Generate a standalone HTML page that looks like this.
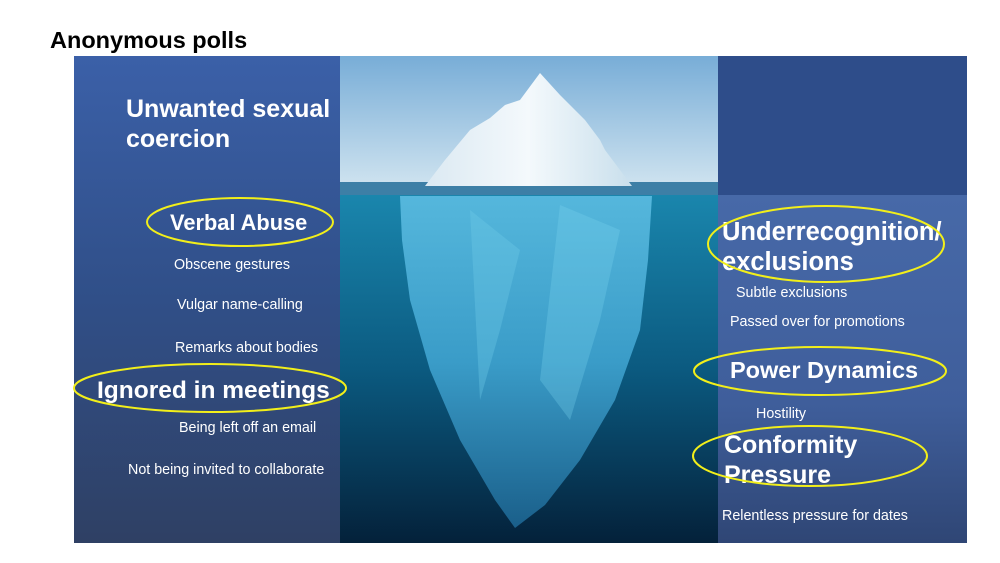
<!DOCTYPE html>
<html><head><meta charset="utf-8"><style>
html,body{margin:0;padding:0;background:#fff;}
svg{display:block}
.h{font-family:"Liberation Sans",sans-serif;font-weight:bold;fill:#fff}
.s{font-family:"Liberation Sans",sans-serif;fill:#fff;font-size:14.3px}
</style></head><body>
<svg width="1000" height="563" viewBox="0 0 1000 563" xmlns="http://www.w3.org/2000/svg">
<defs>
<linearGradient id="lp" x1="0" y1="0" x2="0" y2="1"><stop offset="0" stop-color="#3b60a8"/><stop offset="0.5" stop-color="#304f88"/><stop offset="1" stop-color="#2f4064"/></linearGradient>
<linearGradient id="rp" x1="0" y1="0" x2="0" y2="1"><stop offset="0" stop-color="#4769a8"/><stop offset="0.6" stop-color="#3f5e9b"/><stop offset="1" stop-color="#2f4675"/></linearGradient>
<linearGradient id="sky" x1="0" y1="0" x2="0" y2="1"><stop offset="0" stop-color="#78add7"/><stop offset="1" stop-color="#cde2ef"/></linearGradient>
<linearGradient id="sea" x1="0" y1="0" x2="0" y2="1"><stop offset="0" stop-color="#1a86ad"/><stop offset="0.5" stop-color="#0b5a80"/><stop offset="1" stop-color="#04213a"/></linearGradient>
<linearGradient id="ice" x1="0" y1="0" x2="0" y2="1"><stop offset="0" stop-color="#55b7dc"/><stop offset="0.5" stop-color="#3a9cc8"/><stop offset="1" stop-color="#1a5f8a"/></linearGradient>
<linearGradient id="peak" x1="0" y1="0" x2="1" y2="0"><stop offset="0" stop-color="#dbe9f2"/><stop offset="0.5" stop-color="#f4f9fc"/><stop offset="1" stop-color="#c9dfec"/></linearGradient>
</defs>
<text x="50" y="48" font-family="Liberation Sans,sans-serif" font-weight="bold" font-size="23.5" fill="#000">Anonymous polls</text>
<rect x="74" y="56" width="267" height="487" fill="url(#lp)"/>
<rect x="340" y="56" width="378" height="128" fill="url(#sky)"/>
<rect x="340" y="182" width="378" height="14" fill="#3d7fa6"/>
<rect x="340" y="195" width="378" height="348" fill="url(#sea)"/>
<polygon points="400,196 652,196 648,260 640,330 615,400 580,460 545,505 515,528 495,500 460,440 430,370 410,300 402,240" fill="url(#ice)"/>
<polygon points="470,210 520,250 500,330 480,400" fill="#6fcbe8" opacity="0.35"/>
<polygon points="560,205 620,230 600,320 570,420 540,380" fill="#7ad3ee" opacity="0.3"/>
<polygon points="425,186 445,160 470,130 490,118 505,105 520,100 540,73 560,95 575,110 585,120 600,140 605,150 620,170 632,186" fill="url(#peak)"/>
<rect x="718" y="56" width="249" height="140" fill="#2e4d8a"/>
<rect x="718" y="195" width="249" height="348" fill="url(#rp)"/>
<text class="h" font-size="25" x="126" y="117">Unwanted sexual</text>
<text class="h" font-size="25" x="126" y="147">coercion</text>
<text class="h" font-size="21.8" x="170" y="230">Verbal Abuse</text>
<ellipse cx="240" cy="222" rx="93" ry="24" fill="none" stroke="#f2ef1a" stroke-width="2"/>
<text class="s" x="174" y="269">Obscene gestures</text>
<text class="s" x="177" y="309">Vulgar name-calling</text>
<text class="s" x="175" y="352">Remarks about bodies</text>
<text class="h" font-size="24.5" x="97" y="398">Ignored in meetings</text>
<ellipse cx="210" cy="388" rx="136" ry="24" fill="none" stroke="#f2ef1a" stroke-width="2"/>
<text class="s" x="179" y="432">Being left off an email</text>
<text class="s" x="128" y="474">Not being invited to collaborate</text>
<text class="h" font-size="25.5" x="722" y="240">Underrecognition/</text>
<text class="h" font-size="25.5" x="722" y="270">exclusions</text>
<ellipse cx="826" cy="244" rx="118" ry="38" fill="none" stroke="#f2ef1a" stroke-width="2"/>
<text class="s" x="736" y="297">Subtle exclusions</text>
<text class="s" x="730" y="326">Passed over for promotions</text>
<text class="h" font-size="23.5" x="730" y="378">Power Dynamics</text>
<ellipse cx="820" cy="371" rx="126" ry="24" fill="none" stroke="#f2ef1a" stroke-width="2"/>
<text class="s" x="756" y="418">Hostility</text>
<text class="h" font-size="25" x="724" y="453">Conformity</text>
<text class="h" font-size="25" x="724" y="483">Pressure</text>
<ellipse cx="810" cy="456" rx="117" ry="30" fill="none" stroke="#f2ef1a" stroke-width="2"/>
<text class="s" x="722" y="520">Relentless pressure for dates</text>
</svg>
</body></html>
